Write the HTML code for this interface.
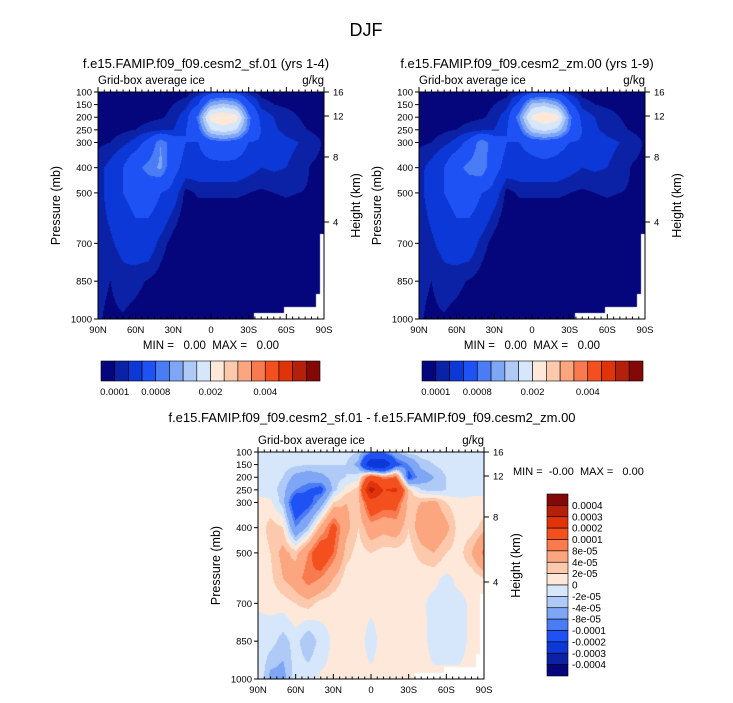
<!DOCTYPE html>
<html><head><meta charset="utf-8"><style>
body{margin:0;background:#fff;width:733px;height:703px;overflow:hidden;position:relative;font-family:"Liberation Sans",sans-serif}
canvas{position:absolute}
svg{position:absolute;left:0;top:0}
text{white-space:pre}
</style></head><body>
<canvas id="c1" style="left:98px;top:92px" width="226" height="227"></canvas>
<canvas id="c2" style="left:419px;top:92px" width="226" height="227"></canvas>
<canvas id="c3" style="left:258px;top:452px" width="226" height="227"></canvas>
<svg id="s" width="733" height="703"></svg>
<script>
// ---- data ----
const lats = [90,80,70,60,50,40,30,20,10,0,-10,-20,-30,-40,-50,-60,-70,-80,-90];
const pressures = [100,150,200,250,300,400,500,600,700,850,1000];
// ice (units 1e-4 g/kg), sf.01
const iceSfE4 = [
[0.4,0.4,0.4,0.4,0.5,0.5,0.5,0.6,1.2,3,3.5,3,1.2,0.6,0.5,0.5,0.4,0.4,0.4],
[0.4,0.4,0.5,0.6,0.7,0.8,1.0,1.5,4,12,14,12,5,1.5,1.0,0.8,0.6,0.5,0.4],
[0.4,0.5,0.6,0.7,0.8,0.9,1.2,3,9,22,24,22,9,3,2,1.5,1.0,0.7,0.5],
[0.5,0.6,0.8,1.0,1.3,1.6,2,4,7,16,18,16,8,4,2.2,1.6,1.2,0.9,0.7],
[0.8,1.0,1.6,2.5,5,10,6,4,4,6,7,6,4,3.5,3,2.4,2,1.4,0.9],
[1.5,2.5,4,7,9,10.5,5,3,3,3,3,3,2.5,2,2.2,2,1.5,0.9,0.8],
[1.6,2.5,4,5,5.5,4,3,0.6,1.2,1.2,1.2,1.2,1,0.8,1,1.1,1,0.9,0.9],
[1.5,2.2,3,4,4,3,1.5,0.3,0.3,0.3,0.3,0.3,0.3,0.3,0.5,0.6,0.5,0.6,0.6],
[1.3,1.8,2.5,3,3,1.5,0.5,0.3,0.3,0.3,0.3,0.3,0.3,0.3,0.3,0.4,0.3,0.3,0.3],
[1.2,1.0,1.5,1.3,0.9,0.5,0.3,0.3,0.3,0.3,0.3,0.3,0.3,0.3,0.3,0.3,0.3,0.3,0.3],
[1.1,0.8,0.9,0.6,0.3,0.3,0.3,0.3,0.3,0.3,0.3,0.3,0.3,0.3,0.3,0.3,0.3,0.3,0.3]];
// ice (units 1e-4 g/kg), zm.00
const iceZmE4 = [
[0.4,0.4,0.4,0.4,0.5,0.5,0.5,0.6,1.3,3,3.6,3,1.2,0.6,0.5,0.5,0.4,0.4,0.4],
[0.4,0.4,0.5,0.6,0.7,0.8,1.0,1.5,5,14,15,12,5,1.5,1.0,0.8,0.6,0.5,0.4],
[0.4,0.5,0.6,0.7,0.8,0.9,1.2,3,10,21,24,22,9,3,2,1.5,1.0,0.7,0.5],
[0.5,0.6,0.8,1.0,1.3,1.6,2,4,7,15,17,15,8,4,2.2,1.6,1.2,0.9,0.7],
[0.8,1.0,1.6,2.5,5,10,6,4,4,5,6,5,4,3.5,3,2.4,2,1.4,0.9],
[1.6,2.5,4,7,9,10,5,3,3,3,3,3,2.5,2,2.2,2,1.5,0.9,0.8],
[1.7,2.5,4,5,5.5,4,3,0.6,1.2,1.2,1.2,1.2,1,0.8,1,1.1,1,0.9,0.9],
[1.5,2.2,3,4,4,3,1.5,0.3,0.3,0.3,0.3,0.3,0.3,0.3,0.5,0.6,0.5,0.6,0.6],
[1.3,1.8,2.5,3,3,1.5,0.5,0.3,0.3,0.3,0.3,0.3,0.3,0.3,0.3,0.4,0.3,0.3,0.3],
[1.2,1.0,1.5,1.3,0.9,0.5,0.3,0.3,0.3,0.3,0.3,0.3,0.3,0.3,0.3,0.3,0.3,0.3,0.3],
[1.1,0.8,0.9,0.6,0.3,0.3,0.3,0.3,0.3,0.3,0.3,0.3,0.3,0.3,0.3,0.3,0.3,0.3,0.3]];
// difference (units 1e-5 g/kg)
const diffE5 = [
[-1,-1,-1,-1,-1,-1,-1,-1,-2,-8,-8,-4,-1,-1,-1,-1,-1,-1,-1],
[-1,-1,-1,-1.5,-2,-2,-2,-2,-5,-30,-30,-12,-8,-3,-2,-1,-1,-1,-1],
[-1,-1,-2,-5,-6,-5,-3,-2,-1,15,8,10,-12,-6,-4,-2,-1,-1,-1],
[-0.5,-1,-3,-8,-10,-12,-3,1,3,35,20,22,3,-2,-3,-2,-1,-0.5,-0.5],
[0.5,0.5,-3,-15,-12,-6,2,4,3,15,12,12,3,4,5,2,0.5,0.5,0.5],
[0.5,3,2,-8,-3,5,12,5,2,6,5,6,2,6,7,5,1,1,3],
[0.2,2,5,3,8,15,10,3,1,2,1,1,1,3,4,2,1,4,9],
[0.2,1.5,4,6,10,8,4,1,0.5,0.5,0.5,0.5,0.5,0.5,0.5,-0.5,0.5,0.5,2],
[0.1,0.5,1,2,3,1,0.5,0.3,0.3,0.3,0.3,0.3,0.3,0.3,-0.5,-0.5,-0.5,0.3,0.3],
[-0.5,-1,-3,-1,-4,-1,0.3,0.3,0.5,-0.5,0.5,0.5,0.5,0.5,-0.5,-0.5,-0.5,0.3,0.3],
[0.5,-5,-5,-1,-0.5,0.3,0.3,0.3,0.3,0.3,0.3,0.3,0.3,0.3,0.3,0.3,0.3,0.3,0.3]];
const iceLevelsE4 = [1,2,4,8,10,13,16,20,25,30,35,40,45,50,55];
const diffLevelsE5 = [-40,-30,-20,-10,-8,-4,-2,0,2,4,8,10,20,30,40];
const iceBarLabels = ["0.0001","0.0008","0.002","0.004"];
const iceBarLabelIdx = [1,4,8,12];
const diffBarLabels = ["0.0004","0.0003","0.0002","0.0001","8e-05","4e-05","2e-05","0","-2e-05","-4e-05","-8e-05","-0.0001","-0.0002","-0.0003","-0.0004"];
const pTicks = [100,150,200,250,300,400,500,700,850,1000];
const hTicks = [[16,0],[12,24],[8,65],[4,130]];
const latTicks = ["90N","60N","30N","0","30S","60S","90S"];
const colors = ['#06067c','#0c22a6','#0b38d6','#1e52f5','#4a7cf5','#7ea6f5','#b0caf7','#d6e7fb','#fee8d9','#fcc9ad','#fba67f','#f97a4e','#f4501d','#e0330a','#b5200a','#840808'];

function lev(v,levels){let k=0;while(k<levels.length&&v>=levels[k])k++;return k;}
function sample(grid,fx,py){
  let xi=fx*(lats.length-1);let i0=Math.min(Math.floor(xi),lats.length-2);let tx=xi-i0;
  let j0=0;while(j0<pressures.length-2&&py>pressures[j0+1])j0++;
  let ty=(py-pressures[j0])/(pressures[j0+1]-pressures[j0]);
  const a=grid[j0][i0],b=grid[j0][i0+1],c=grid[j0+1][i0],d=grid[j0+1][i0+1];
  return (a*(1-tx)+b*tx)*(1-ty)+(c*(1-tx)+d*tx)*ty;
}
function field(id,grid,levels,missing){
  const cv=document.getElementById(id),ctx=cv.getContext('2d');const W=cv.width,H=cv.height;
  for(let y=0;y<H;y++){const p=100+900*(y+0.5)/H;
    for(let x=0;x<W;x++){ctx.fillStyle=colors[lev(sample(grid,(x+0.5)/W,p),levels)];ctx.fillRect(x,y,1,1);}}
  if(missing){ctx.fillStyle='#fff';
    ctx.fillRect(W-4,H-85,4,85);ctx.fillRect(W-8,H-25,8,25);ctx.fillRect(W-70,H-6,70,6);ctx.fillRect(W-40,H-12,40,12);}
}
field('c1',iceSfE4,iceLevelsE4,true);
field('c2',iceZmE4,iceLevelsE4,true);
field('c3',diffE5,diffLevelsE5,true);

const S=document.getElementById('s');const NS='http://www.w3.org/2000/svg';
function el(tag,attrs,txt){const e=document.createElementNS(NS,tag);for(const k in attrs)e.setAttribute(k,attrs[k]);if(txt!==undefined)e.textContent=txt;S.appendChild(e);return e;}
function txt(x,y,s,size,anchor,name,rot){const a={x:x,y:y,'font-size':size,'text-anchor':anchor||'middle',fill:'#000'};if(rot)a.transform=`rotate(-90 ${x} ${y})`;const e=el('text',a,s);return e;}

txt(366,36,'DJF',18,'middle','main-title');
function panel(x0,y0,title,tx,ty,pfx,hasMinMax){
  const W=226,H=227;
  txt(tx,ty,title,13,'middle',pfx+'-title');
  txt(x0,y0-8,'Grid-box average ice',11.5,'start',pfx+'-subtitle');
  txt(x0+W,y0-8,'g/kg',11.5,'end',pfx+'-units');
  const fr=el('rect',{x:x0,y:y0,width:W,height:H,fill:'none',stroke:'#000','stroke-width':1});
  
  pTicks.forEach(p=>{const y=y0+(p-100)/900*H;el('line',{x1:x0-4,x2:x0,y1:y,y2:y,stroke:'#000'});txt(x0-6,y+3.5,String(p),9.5,'end',pfx+'-p-tick');});
  hTicks.forEach(h=>{const y=y0+h[1];el('line',{x1:x0+W,x2:x0+W+5,y1:y,y2:y,stroke:'#000'});txt(x0+W+9,y+3.5,String(h[0]),9.5,'start',pfx+'-h-tick');});
  for(let i=0;i<=36;i++){const x=x0+i/36*W;const L=i%6==0?5:2.5;el('line',{x1:x,x2:x,y1:y0+H,y2:y0+H-L,stroke:'#000'});el('line',{x1:x,x2:x,y1:y0,y2:y0-L,stroke:'#000'});}
  latTicks.forEach((l,i)=>txt(x0+i/6*W,y0+H+14,l,9.5,'middle',pfx+'-lat-tick'));
  txt(x0-38,y0+H/2,'Pressure (mb)',12.5,'middle',pfx+'-y-axis-title',true);
  txt(x0+W+36,y0+H/2,'Height (km)',12.5,'middle',pfx+'-y2-axis-title',true);
  if(hasMinMax) txt(x0+W/2,y0+H+30,'MIN =   0.00  MAX =   0.00',11.5,'middle',pfx+'-minmax');
}
panel(98,92,'f.e15.FAMIP.f09_f09.cesm2_sf.01 (yrs 1-4)',206,68,'left',true);
panel(419,92,'f.e15.FAMIP.f09_f09.cesm2_zm.00 (yrs 1-9)',527,68,'right',true);
panel(258,452,'f.e15.FAMIP.f09_f09.cesm2_sf.01 - f.e15.FAMIP.f09_f09.cesm2_zm.00',372,422,'diff',false);
txt(513,475,'MIN =  -0.00  MAX =   0.00',11,'start','diff-minmax');

function hbar(x0,y0,w,h,pfx){
  const bw=w/16;
  colors.forEach((c,i)=>{const r=el('rect',{x:x0+i*bw,y:y0,width:bw,height:h,fill:c,stroke:'#000','stroke-width':0.6});});
  iceBarLabels.forEach((l,k)=>txt(x0+iceBarLabelIdx[k]*bw,y0+h+14,l,9.5,'middle',pfx+'-colorbar-label'));
}
hbar(101,361,219,20,'left');
hbar(422,361,221,20,'right');
(function(){const x0=547,y0=494,w=21,H=182,bh=H/16;
  for(let i=0;i<16;i++){const r=el('rect',{x:x0,y:y0+i*bh,width:w,height:bh,fill:colors[15-i],stroke:'#000','stroke-width':0.6});}
  diffBarLabels.forEach((l,k)=>txt(x0+w+4,y0+(k+1)*bh+3.5,l,10,'start','diff-colorbar-label'));
})();
</script>
</body></html>
